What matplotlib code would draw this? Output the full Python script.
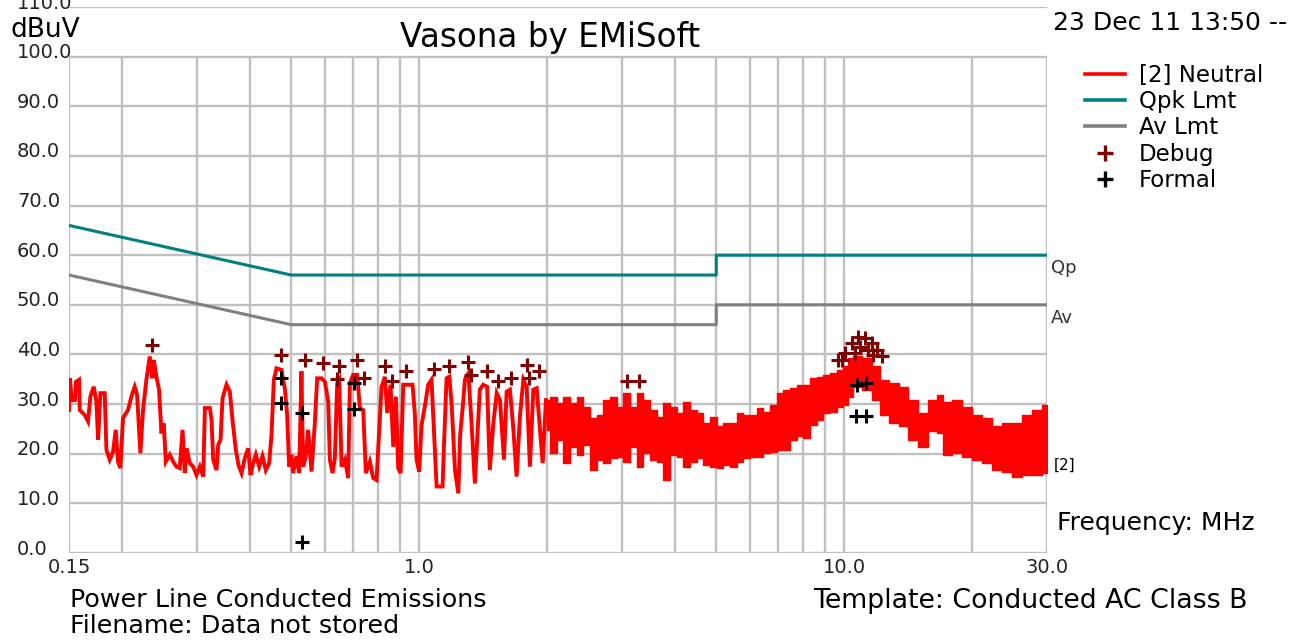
import matplotlib
matplotlib.use("Agg")
import matplotlib.pyplot as plt
from matplotlib.lines import Line2D

plt.rcParams['font.family'] = ['DejaVu Sans']

# ---------------------- data ----------------------
# [2] Neutral trace, sparse part: frequency MHz / level dBuV
trace_f = [0.150, 0.1508, 0.1522, 0.1549, 0.1558, 0.1584, 0.1590, 0.1633, 0.1663, 0.1684,
           0.1715, 0.1740, 0.1756, 0.1778, 0.1820, 0.1837, 0.1870, 0.1904, 0.1932, 0.1956,
           0.1981, 0.2010, 0.2065, 0.2103, 0.2141, 0.2169, 0.2192, 0.2208, 0.2240, 0.2281,
           0.2323, 0.2357, 0.2374, 0.2409, 0.2443, 0.2475, 0.2506, 0.2534, 0.2589, 0.2637,
           0.2685, 0.2734, 0.2774, 0.2809, 0.2835, 0.2886, 0.2939, 0.2993, 0.3048, 0.3104,
           0.3132, 0.3218, 0.3247, 0.3276, 0.3336, 0.3366, 0.3409, 0.3446, 0.3521, 0.3585,
           0.3637, 0.3703, 0.3757, 0.3819, 0.3888, 0.3959, 0.4010, 0.4068, 0.4127, 0.4202,
           0.4279, 0.4356, 0.4436, 0.4493, 0.4550, 0.4616, 0.4743, 0.4829, 0.4890, 0.4943,
           0.5006, 0.5051, 0.5144, 0.5219, 0.5285, 0.5333, 0.5410, 0.5479, 0.5580, 0.5681,
           0.5754, 0.5890, 0.6000, 0.6108, 0.6164, 0.6253, 0.6333, 0.6414, 0.6484, 0.6567,
           0.6686, 0.6808, 0.6870, 0.6994, 0.7147, 0.7251, 0.7383, 0.7491, 0.7655, 0.7795,
           0.7937, 0.8053, 0.8156, 0.8304, 0.8410, 0.8564, 0.8688, 0.8815, 0.8927, 0.9041,
           0.9173, 0.9647, 0.9770, 0.9858, 1.000, 1.013, 1.031, 1.050, 1.069, 1.083,
           1.099, 1.135, 1.143, 1.160, 1.178, 1.193, 1.214, 1.236, 1.248, 1.270,
           1.281, 1.305, 1.328, 1.352, 1.369, 1.389, 1.414, 1.445, 1.466, 1.493,
           1.522, 1.549, 1.583, 1.606, 1.635, 1.665, 1.695, 1.726, 1.758, 1.790,
           1.822, 1.856, 1.890, 1.924, 1.952, 1.987]
trace_db = [28.8, 35.2, 30.8, 30.8, 34.5, 34.9, 28.8, 27.8, 26.5, 31.5,
            33.5, 30.5, 22.8, 32.2, 32.2, 20.8, 18.8, 20.4, 24.8, 18.4,
            17.1, 27.2, 28.8, 31.5, 33.5, 31.9, 25.1, 20.1, 28.8, 34.9,
            39.6, 35.2, 38.9, 35.5, 32.9, 24.1, 26.1, 18.4, 19.8, 18.4,
            17.4, 17.1, 24.8, 16.1, 21.1, 18.1, 17.4, 15.7, 17.4, 15.4,
            29.2, 29.2, 26.8, 18.8, 16.7, 21.8, 22.8, 31.2, 33.9, 32.5,
            26.8, 20.8, 17.7, 16.1, 19.1, 21.1, 15.7, 18.1, 19.8, 17.4,
            19.5, 16.7, 18.1, 23.8, 34.9, 37.2, 36.9, 33.2, 27.8, 17.4,
            19.8, 16.1, 19.5, 16.1, 36.6, 17.4, 19.5, 24.8, 16.4, 26.1,
            35.2, 35.2, 34.5, 30.5, 18.8, 16.1, 19.1, 34.2, 34.9, 17.4,
            18.8, 15.1, 34.2, 35.9, 35.9, 29.2, 28.8, 16.1, 18.4, 15.1,
            14.7, 24.8, 33.5, 35.5, 28.2, 33.9, 21.4, 31.5, 17.1, 16.1,
            33.9, 33.9, 27.8, 18.8, 16.4, 25.8, 29.5, 33.9, 34.9, 24.8,
            13.4, 13.4, 21.1, 35.2, 35.5, 29.5, 16.7, 12.0, 23.5, 30.8,
            34.9, 36.2, 26.1, 14.0, 22.8, 32.9, 33.9, 33.5, 16.7, 25.8,
            32.2, 30.8, 18.8, 32.5, 32.9, 25.1, 15.4, 27.5, 34.9, 33.5,
            17.4, 32.9, 33.2, 24.8, 18.1, 30.8]

# dense part of the trace above ~2 MHz, as upper / lower envelope
band_f = [1.995, 2.069, 2.145, 2.225, 2.306, 2.391, 2.478, 2.570, 2.664, 2.762,
          2.864, 2.970, 3.078, 3.191, 3.309, 3.431, 3.558, 3.689, 3.824, 3.965,
          4.110, 4.262, 4.418, 4.581, 4.748, 4.923, 5.104, 5.292, 5.486, 5.688,
          5.897, 6.114, 6.339, 6.572, 6.814, 7.064, 7.324, 7.594, 7.872, 8.162,
          8.462, 8.773, 9.095, 9.429, 9.776, 10.14, 10.23, 10.70, 11.30, 11.93,
          12.37, 13.06, 13.78, 14.55, 15.36, 16.21, 16.80, 17.43, 18.40, 19.42,
          20.50, 21.64, 22.85, 24.12, 25.46, 26.88, 28.38, 30.0]
band_hi = [30.8, 31.5, 30.2, 31.5, 30.2, 31.5, 29.5, 27.2, 27.8, 30.8,
           31.5, 29.5, 32.2, 29.5, 32.2, 30.8, 28.8, 27.5, 30.2, 29.5,
           28.2, 30.5, 28.8, 28.2, 26.1, 27.5, 25.5, 26.1, 26.1, 28.2,
           27.8, 27.8, 29.2, 28.5, 29.8, 32.2, 32.9, 33.2, 33.9, 33.9,
           35.2, 35.5, 35.9, 36.2, 36.9, 37.6, 39.2, 39.6, 39.2, 37.6,
           34.9, 34.2, 33.5, 30.8, 28.2, 30.8, 31.9, 30.5, 30.8, 29.5,
           27.8, 27.2, 25.5, 26.1, 26.1, 27.8, 28.8, 29.8]
band_lo = [24.8, 20.1, 22.8, 18.1, 21.4, 19.8, 21.8, 16.7, 18.8, 18.1,
           19.1, 19.4, 18.4, 21.4, 17.4, 20.1, 18.8, 18.4, 14.7, 19.8,
           19.4, 17.4, 18.4, 19.1, 17.7, 17.4, 17.1, 17.7, 17.4, 18.4,
           19.1, 19.4, 19.4, 20.1, 20.4, 20.8, 20.8, 22.8, 23.5, 23.1,
           25.8, 26.8, 28.2, 28.5, 29.5, 29.8, 31.5, 33.5, 32.9, 30.8,
           27.8, 26.1, 25.5, 22.8, 21.4, 24.5, 24.1, 19.8, 20.1, 19.4,
           18.8, 18.1, 16.7, 16.4, 15.4, 15.7, 15.7, 16.1]

# limits (CISPR 22 class B)
qp_f = [0.15, 0.5, 5.0, 5.0, 30.0]
qp_db = [66.0, 56.0, 56.0, 60.0, 60.0]
av_f = [0.15, 0.5, 5.0, 5.0, 30.0]
av_db = [56.0, 46.0, 46.0, 50.0, 50.0]

# peak markers
debug_f = [0.2348, 0.473, 0.539, 0.595, 0.646, 0.640, 0.714, 0.741, 0.833, 0.862,
           0.930, 1.085, 1.176, 1.300, 1.325, 1.441, 1.534, 1.641, 1.790, 1.814,
           1.911, 3.078, 3.291, 9.87, 9.69, 10.05, 10.41, 10.61, 10.78, 10.90,
           11.19, 11.40, 11.61, 11.70, 11.93, 12.26]
debug_db = [41.9, 39.9, 38.8, 38.2, 37.6, 35.1, 38.8, 35.2, 37.7, 34.6,
            36.6, 37.0, 37.7, 38.4, 35.9, 36.6, 34.7, 35.2, 37.9, 35.2,
            36.6, 34.7, 34.7, 38.9, 38.9, 40.3, 42.3, 40.2, 43.5, 41.6,
            43.3, 40.9, 42.3, 39.8, 40.9, 39.6]
formal_f = [0.474, 0.474, 0.531, 0.531, 0.704, 0.704, 10.72, 11.26, 10.66, 11.26]
formal_db = [35.2, 30.2, 28.3, 2.3, 34.2, 29.0, 33.9, 34.2, 27.6, 27.6]

grid_f = [0.15, 0.2, 0.3, 0.4, 0.5, 0.6, 0.7, 0.8, 0.9, 1.0,
          2.0, 3.0, 4.0, 5.0, 6.0, 7.0, 8.0, 9.0, 10.0, 20.0, 30.0]
grid_db = [0, 10, 20, 30, 40, 50, 60, 70, 80, 90, 100, 110]
ytick_labels = ["0.0", "10.0", "20.0", "30.0", "40.0", "50.0", "60.0",
                "70.0", "80.0", "90.0", "100.0", "110.0"]
xtick_vals = [0.15, 1.0, 10.0, 30.0]
xtick_labels = ["0.15", "1.0", "10.0", "30.0"]

RED = "#ff0000"
TEAL = "#008080"
GRAY = "#808080"
DARKRED = "#800000"
GRID = "#c0c0c0"

# ---------------------- figure ----------------------
W, H = 1299, 641
fig = plt.figure(figsize=(W / 100, H / 100), dpi=100)
# plot box: 0.15 MHz at x=69px, 30 MHz at x=1047px, 0 dB at y=553px, 110 dB at y=7px
ax = fig.add_axes([69 / W, 1 - 553 / H, 978 / W, 546 / H])
ax.set_xscale('log')
ax.set_xlim(0.15, 30)
ax.set_ylim(0, 110)
ax.set_axis_off()

# grid: verticals only up to 100, horizontals up to 110
ax.vlines(grid_f, 0, 100, colors=GRID, linewidth=1.7, zorder=1)
ax.hlines(grid_db, 0.15, 30, colors=GRID, linewidth=1.7, zorder=1)

# limit lines
ax.plot(qp_f, qp_db, color=TEAL, linewidth=2.2, zorder=3)
ax.plot(av_f, av_db, color=GRAY, linewidth=2.2, zorder=3)

# measurement trace
ax.plot(trace_f, trace_db, color=RED, linewidth=2.8, solid_joinstyle='miter', zorder=4)
ax.fill_between(band_f, band_lo, band_hi, step='mid', color=RED, linewidth=1.0,
                edgecolor=RED, zorder=4)

# markers
ax.plot(debug_f, debug_db, linestyle='none', marker='+', markersize=10,
        markeredgewidth=2.2, color=DARKRED, zorder=5, clip_on=False)
ax.plot(formal_f, formal_db, linestyle='none', marker='+', markersize=10,
        markeredgewidth=2.2, color='black', zorder=6, clip_on=False)

# tick labels
ytr = ax.get_yaxis_transform()
for v, lab in zip(grid_db, ytick_labels):
    ax.text(-52 / 978, v + 0.8, lab, transform=ytr, ha='left', va='center',
            fontsize=14, color='#222222', clip_on=False)
for v, lab in zip(xtick_vals, xtick_labels):
    ax.text(v, -3.0, lab, ha='center', va='center', fontsize=14,
            color='#222222', clip_on=False)

# limit tags at right edge
ax.text(30.0 * 1.02, 57.4, "Qp", ha='left', va='center', fontsize=13, color='#333333', clip_on=False)
ax.text(30.0 * 1.02, 47.3, "Av", ha='left', va='center', fontsize=13, color='#333333', clip_on=False)
ax.text(30.0 * 1.04, 17.6, "[2]", ha='left', va='center', fontsize=11, color='black', clip_on=False)

# figure texts
def px(x, y):
    return x / W, 1 - y / H

fig.text(*px(550, 47), "Vasona by EMiSoft", ha='center', va='baseline', fontsize=23.5)
fig.text(*px(10, 37), "dBuV", ha='left', va='baseline', fontsize=19)
fig.text(*px(1053, 30), "23 Dec 11 13:50 --", ha='left', va='baseline', fontsize=18)
fig.text(*px(1057, 530), "Frequency: MHz", ha='left', va='baseline', fontsize=18)
fig.text(*px(70, 607), "Power Line Conducted Emissions", ha='left', va='baseline', fontsize=18.3)
fig.text(*px(70, 633), "Filename: Data not stored", ha='left', va='baseline', fontsize=18.3)
fig.text(*px(813, 608), "Template: Conducted AC Class B", ha='left', va='baseline', fontsize=19.3)

# legend
handles = [
    Line2D([], [], color=RED, linewidth=2.6),
    Line2D([], [], color=TEAL, linewidth=2.6),
    Line2D([], [], color=GRAY, linewidth=2.6),
    Line2D([], [], color=DARKRED, linestyle='none', marker='+', markersize=11, markeredgewidth=2.4),
    Line2D([], [], color='black', linestyle='none', marker='+', markersize=11, markeredgewidth=2.4),
]
labels = ["[2] Neutral", "Qpk Lmt", "Av Lmt", "Debug", "Formal"]
fig.legend(handles, labels, loc='upper left', bbox_to_anchor=px(1085, 64),
           frameon=False, fontsize=16.5, labelspacing=0.14, handlelength=1.75,
           handletextpad=0.6, borderpad=0, borderaxespad=0)

fig.savefig("out.png", dpi=100, facecolor='white')
